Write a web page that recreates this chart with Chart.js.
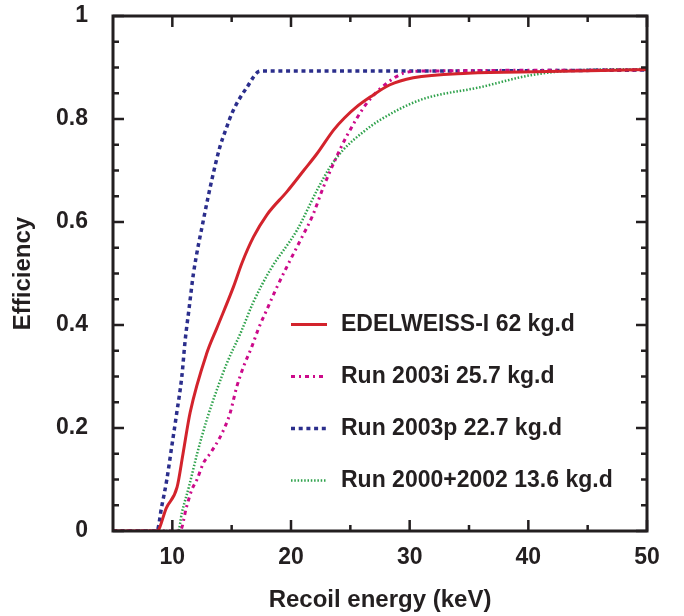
<!DOCTYPE html>
<html>
<head>
<meta charset="utf-8">
<script src="https://cdn.jsdelivr.net/npm/chart.js@4.4.1/dist/chart.umd.min.js"></script>
<style>
    html, body { margin: 0; padding: 0; background: #fff; }
    #wrap { width: 684px; height: 616px; }
</style>
</head>
<body>
<div id="wrap"><canvas id="effChart" width="684" height="616"></canvas></div>
<script>
// Daten
const edwEnergy = [5, 8.7, 9.5, 10.4, 10.9, 11.5, 12.9, 13.75, 15.15, 15.86, 16.84, 17.97, 19.66, 21.07, 22.2, 23.6, 24.5, 25.5, 26.7, 28.3, 30.3, 34.9, 41.6, 50];
const edwEff = [0, 0, 0.045, 0.085, 0.15, 0.23, 0.345, 0.394, 0.474, 0.52, 0.571, 0.614, 0.659, 0.70, 0.733, 0.779, 0.802, 0.823, 0.843, 0.866, 0.88, 0.889, 0.892, 0.896];

const run03iEnergy = [5, 10.65, 11.2, 11.64, 12.06, 12.62, 13.2, 13.9, 14.45, 14.87, 15.43, 16.0, 16.7, 17.26, 17.97, 18.7, 19.65, 20.8, 21.85, 22.7, 23.65, 24.7, 26.4, 28.1, 29.5, 31, 50];
const run03iEff = [0, 0, 0.047, 0.08, 0.099, 0.132, 0.151, 0.177, 0.203, 0.229, 0.28, 0.319, 0.358, 0.393, 0.43, 0.468, 0.513, 0.565, 0.614, 0.666, 0.717, 0.767, 0.831, 0.87, 0.889, 0.893, 0.895];

const run03pEnergy = [5, 8.7, 9.1, 9.53, 9.95, 10.37, 10.8, 11.08, 11.4, 11.78, 12.62, 13.33, 14.0, 14.5, 15.1, 16.3, 17.4, 18.5, 30, 50];
const run03pEff = [0, 0, 0.047, 0.099, 0.164, 0.229, 0.30, 0.37, 0.43, 0.50, 0.604, 0.682, 0.745, 0.779, 0.815, 0.862, 0.893, 0.893, 0.893, 0.895];

const run0002Energy = [5, 10.5, 10.8, 11.4, 12.1, 12.9, 13.75, 14.6, 15.8, 16.8, 18.25, 20.5, 22.2, 23.3, 24.4, 26.1, 27.5, 30.9, 36.0, 40.2, 44.4, 50];
const run0002Eff = [0, 0, 0.035, 0.086, 0.151, 0.216, 0.274, 0.326, 0.387, 0.443, 0.507, 0.584, 0.662, 0.707, 0.74, 0.775, 0.798, 0.837, 0.862, 0.885, 0.895, 0.897];

const seriesLabels = ['EDELWEISS-I 62 kg.d', 'Run 2003i 25.7 kg.d', 'Run 2003p 22.7 kg.d', 'Run 2000+2002 13.6 kg.d'];

// Achsen-Ticks
const xTicks = [10, 20, 30, 40, 50];
const xMinorTicks = [15, 25, 35, 45];
const yTicks = [0, 0.2, 0.4, 0.6, 0.8, 1];
const yMinorTicks = [0.05, 0.1, 0.15, 0.25, 0.3, 0.35, 0.45, 0.5, 0.55, 0.65, 0.7, 0.75, 0.85, 0.9, 0.95];

const FONT = '"Liberation Sans", Arial, Helvetica, sans-serif';
const INK = '#231f20';

function toPoints(xs, ys) {
    return xs.map((x, i) => ({ x: x, y: ys[i] }));
}

// Rahmen mit nach innen zeigenden Ticks
const framePlugin = {
    id: 'frame',
    afterDatasetsDraw(chart) {
        const { ctx, chartArea: a, scales: { x, y } } = chart;
        ctx.save();
        ctx.strokeStyle = INK;
        ctx.lineWidth = 3;
        ctx.strokeRect(a.left, a.top, a.right - a.left, a.bottom - a.top);
        ctx.lineWidth = 2.5;
        ctx.beginPath();
        const tickX = (v, len) => {
            const px = x.getPixelForValue(v);
            ctx.moveTo(px, a.bottom); ctx.lineTo(px, a.bottom - len);
            ctx.moveTo(px, a.top); ctx.lineTo(px, a.top + len);
        };
        const tickY = (v, len) => {
            const py = y.getPixelForValue(v);
            ctx.moveTo(a.left, py); ctx.lineTo(a.left + len, py);
            ctx.moveTo(a.right, py); ctx.lineTo(a.right - len, py);
        };
        xTicks.forEach(v => tickX(v, 11));
        xMinorTicks.forEach(v => tickX(v, 6));
        yTicks.forEach(v => tickY(v, 11));
        yMinorTicks.forEach(v => tickY(v, 6));
        ctx.stroke();
        ctx.restore();
    }
};

// Legende innerhalb der Zeichenfläche
const legendPlugin = {
    id: 'innerLegend',
    afterDatasetsDraw(chart, args, opts) {
        const ctx = chart.ctx;
        ctx.save();
        ctx.font = 'bold 23px ' + FONT;
        ctx.textBaseline = 'middle';
        ctx.textAlign = 'left';
        chart.data.datasets.forEach((ds, i) => {
            const yy = opts.top + i * opts.rowGap;
            ctx.beginPath();
            ctx.strokeStyle = ds.borderColor;
            ctx.lineWidth = ds.borderWidth;
            ctx.setLineDash(ds.borderDash || []);
            ctx.moveTo(opts.lineStart, yy);
            ctx.lineTo(opts.lineEnd, yy);
            ctx.stroke();
            ctx.setLineDash([]);
            ctx.fillStyle = INK;
            ctx.fillText(ds.label, opts.textStart, yy);
        });
        ctx.restore();
    }
};

const effChart = new Chart(document.getElementById('effChart'), {
    type: 'line',
    data: {
        datasets: [{
            label: seriesLabels[0],
            data: toPoints(edwEnergy, edwEff),
            borderColor: '#d3232c',
            borderWidth: 3,
            borderDash: []
        }, {
            label: seriesLabels[1],
            data: toPoints(run03iEnergy, run03iEff),
            borderColor: '#cc0a8a',
            borderWidth: 3,
            borderDash: [4, 4, 2, 4]
        }, {
            label: seriesLabels[2],
            data: toPoints(run03pEnergy, run03pEff),
            borderColor: '#2b2e8c',
            borderWidth: 3.5,
            borderDash: [4, 3.7]
        }, {
            label: seriesLabels[3],
            data: toPoints(run0002Energy, run0002Eff),
            borderColor: '#2fa24c',
            borderWidth: 2.5,
            borderDash: [1.5, 1.8]
        }]
    },
    options: {
        responsive: false,
        animation: false,
        devicePixelRatio: 1,
        layout: { padding: { top: 16, right: 37, bottom: 0, left: 0 } },
        elements: {
            point: { radius: 0 },
            line: { cubicInterpolationMode: 'monotone', fill: false }
        },
        plugins: {
            legend: { display: false },
            tooltip: { enabled: false },
            innerLegend: { top: 324.5, rowGap: 52, lineStart: 291, lineEnd: 327, textStart: 341 }
        },
        scales: {
            x: {
                type: 'linear',
                min: 5,
                max: 50,
                grid: { display: false, drawTicks: false },
                border: { display: false },
                afterBuildTicks: s => { s.ticks = xTicks.map(v => ({ value: v })); },
                afterFit: s => { s.height = 85; s.paddingLeft = 0; s.paddingRight = 0; },
                ticks: {
                    padding: 13,
                    color: INK,
                    font: { family: FONT, size: 23, weight: 'bold' },
                    callback: v => String(v)
                },
                title: {
                    display: true,
                    text: 'Recoil energy (keV)',
                    color: INK,
                    font: { family: FONT, size: 24, weight: 'bold' },
                    padding: { top: 0, bottom: 1 }
                }
            },
            y: {
                min: 0,
                max: 1,
                grid: { display: false, drawTicks: false },
                border: { display: false },
                afterBuildTicks: s => { s.ticks = yTicks.map(v => ({ value: v })); },
                afterFit: s => { s.width = 113; s.paddingTop = 0; s.paddingBottom = 0; },
                ticks: {
                    padding: 25,
                    color: INK,
                    font: { family: FONT, size: 23, weight: 'bold' },
                    callback: v => String(v)
                },
                title: {
                    display: true,
                    text: 'Efficiency',
                    color: INK,
                    font: { family: FONT, size: 24, weight: 'bold' },
                    padding: { top: 9, bottom: 0 }
                }
            }
        }
    },
    plugins: [framePlugin, legendPlugin]
});
</script>
</body>
</html>
